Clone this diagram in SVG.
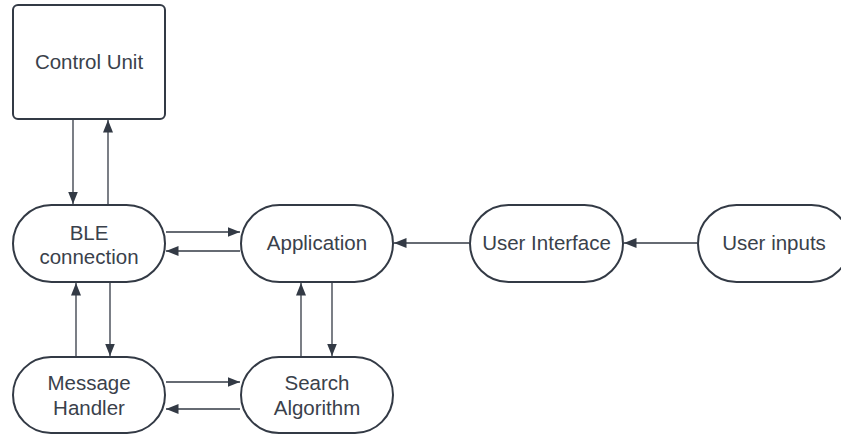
<svg xmlns="http://www.w3.org/2000/svg" width="841" height="435" viewBox="0 0 841 435">
<style>
.node{fill:#ffffff;stroke:#333a45;stroke-width:2}
.lbl{font-family:"Liberation Sans",Arial,sans-serif;font-size:20.5px;fill:#3a414b;text-anchor:middle}
.conn{stroke:#333a45;stroke-width:1.3;fill:none;marker-end:url(#ah)}
</style>
<defs>
<marker id="ah" markerWidth="13" markerHeight="10" refX="12.5" refY="5" orient="auto" markerUnits="userSpaceOnUse">
<path d="M0,0 L12.5,5 L0,10 Z" fill="#333a45"/>
</marker>
</defs>
<rect width="841" height="435" fill="#ffffff"/>
<g id="connectors">
<line class="conn" x1="73" y1="120" x2="73" y2="204"/>
<line class="conn" x1="108" y1="204" x2="108" y2="120"/>
<line class="conn" x1="166" y1="232" x2="240" y2="232"/>
<line class="conn" x1="240" y1="251" x2="166" y2="251"/>
<line class="conn" x1="110" y1="283" x2="110" y2="356"/>
<line class="conn" x1="76" y1="356" x2="76" y2="283"/>
<line class="conn" x1="332" y1="283" x2="332" y2="356"/>
<line class="conn" x1="301" y1="356" x2="301" y2="283"/>
<line class="conn" x1="166" y1="382" x2="240" y2="382"/>
<line class="conn" x1="240" y1="409" x2="166" y2="409"/>
<line class="conn" x1="469" y1="243" x2="394" y2="243"/>
<line class="conn" x1="697" y1="243" x2="624" y2="243"/>
</g>
<g id="control-unit">
<rect class="node" x="13" y="5" width="152" height="114" rx="5"/>
<text class="lbl" x="89" y="69">Control Unit</text>
</g>
<g id="ble-connection">
<rect class="node" x="13" y="205" width="152" height="77" rx="38.5"/>
<text class="lbl" x="89" y="240">BLE</text>
<text class="lbl" x="89" y="264">connection</text>
</g>
<g id="application">
<rect class="node" x="241" y="205" width="152" height="77" rx="38.5"/>
<text class="lbl" x="317" y="250">Application</text>
</g>
<g id="user-interface">
<rect class="node" x="470" y="205" width="153" height="77" rx="38.5"/>
<text class="lbl" x="546.5" y="250">User Interface</text>
</g>
<g id="user-inputs">
<rect class="node" x="698" y="205" width="152" height="77" rx="38.5"/>
<text class="lbl" x="774" y="250">User inputs</text>
</g>
<g id="message-handler">
<rect class="node" x="13" y="357" width="152" height="76" rx="38"/>
<text class="lbl" x="89" y="390">Message</text>
<text class="lbl" x="89" y="415">Handler</text>
</g>
<g id="search-algorithm">
<rect class="node" x="241" y="357" width="152" height="76" rx="38"/>
<text class="lbl" x="317" y="390">Search</text>
<text class="lbl" x="317" y="415">Algorithm</text>
</g>
</svg>
